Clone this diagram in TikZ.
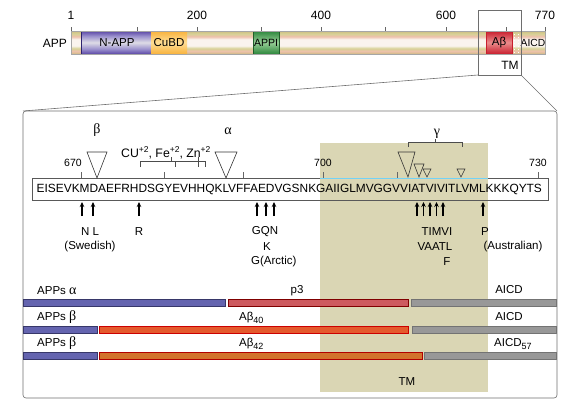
\documentclass[tikz,border=0pt]{standalone}
\usepackage{fontspec}
\setmainfont{Liberation Sans}
\newfontfamily\grk{Liberation Serif}
\usetikzlibrary{arrows.meta}
\definecolor{tanA}{RGB}{205,188,130}
\definecolor{pinkA}{RGB}{238,192,172}
\definecolor{creamA}{RGB}{250,244,238}
\definecolor{grnT}{RGB}{215,210,150}
\definecolor{purA}{RGB}{90,70,165}
\definecolor{purB}{RGB}{155,145,205}
\definecolor{purC}{RGB}{222,220,230}
\definecolor{navyA}{RGB}{45,35,110}
\definecolor{oraA}{RGB}{248,178,60}
\definecolor{oraB}{RGB}{255,222,150}
\definecolor{grnA}{RGB}{45,135,60}
\definecolor{grnB}{RGB}{150,205,150}
\definecolor{redA}{RGB}{200,30,45}
\definecolor{redB}{RGB}{235,140,140}
\definecolor{tmshade}{RGB}{218,214,180}
\definecolor{blueBar}{RGB}{100,100,175}
\definecolor{blueBarD}{RGB}{55,55,105}
\definecolor{p3col}{RGB}{205,90,95}
\definecolor{ab40}{RGB}{228,90,45}
\definecolor{ab42}{RGB}{210,115,45}
\definecolor{grayBar}{RGB}{152,152,152}
\definecolor{lineG}{RGB}{110,110,110}
\pgfdeclareverticalshading{appbg}{100bp}{color(0bp)=(tanA); color(25bp)=(tanA); color(31bp)=(pinkA); color(37bp)=(grnT); color(43bp)=(creamA); color(57bp)=(creamA); color(63bp)=(pinkA); color(69bp)=(grnT); color(75bp)=(tanA); color(100bp)=(tanA)}
\pgfdeclareverticalshading{nappsh}{100bp}{color(0bp)=(purA); color(25bp)=(purA); color(36bp)=(purB); color(50bp)=(purC); color(64bp)=(purB); color(75bp)=(purA); color(100bp)=(purA)}
\pgfdeclareverticalshading{cubdsh}{100bp}{color(0bp)=(oraA); color(25bp)=(oraA); color(50bp)=(oraB); color(75bp)=(oraA); color(100bp)=(oraA)}
\pgfdeclareverticalshading{appish}{100bp}{color(0bp)=(grnA); color(25bp)=(grnA); color(50bp)=(grnB); color(75bp)=(grnA); color(100bp)=(grnA)}
\pgfdeclareverticalshading{absh}{100bp}{color(0bp)=(redA); color(25bp)=(redA); color(50bp)=(redB); color(75bp)=(redA); color(100bp)=(redA)}
\newcommand{\supx}[1]{\raisebox{0.42em}{\fontsize{8.5}{9}\selectfont #1}}
\newcommand{\subx}[1]{\raisebox{-0.28em}{\fontsize{9}{9}\selectfont #1}}
\begin{document}
\begin{tikzpicture}[x=1pt,y=-1pt,
  lbl/.style={inner sep=0pt, font=\fontsize{11.5}{13}\selectfont},
  toplbl/.style={inner sep=0pt, font=\fontsize{10.5}{12}\selectfont},
  numlbl/.style={inner sep=0pt, font=\fontsize{12}{13}\selectfont},
  ticklbl/.style={inner sep=0pt, font=\fontsize{10.5}{12}\selectfont},
  grklbl/.style={inner sep=0pt, font=\fontsize{14}{15}\selectfont\grk},
  seqtxt/.style={inner sep=0pt, font=\fontsize{11.9}{13}\selectfont},
  mut/.style={-{Stealth[length=5pt,width=4.5pt]}, line width=1.1pt},
  tri/.style={draw=black!80, line width=0.6pt},
  brk/.style={draw=black!70, line width=0.6pt},
  tickm/.style={draw=black!60, line width=0.5pt},
  bar/.style={line width=0.7pt},
  frame/.style={draw=lineG, line width=0.6pt}]
\useasboundingbox (0,0) rectangle (570,407);

% ---------- top APP bar ----------
\shade[shading=appbg] (71,31) rectangle (545,54);
\shade[shading=nappsh] (81,31) rectangle (151,54);
\draw[draw=navyA, line width=0.7pt] (81,31) rectangle (151,54);
\shade[shading=cubdsh] (151,31) rectangle (187,54);
\shade[shading=appish] (253,31) rectangle (279,54);
\draw[draw=grnA!70!black, line width=0.7pt] (253,31) rectangle (279,54);
\shade[shading=absh] (486,31) rectangle (512,54);
\draw[draw=redA, line width=0.7pt] (486,31) rectangle (512,54);
\draw[white, dotted, line width=1pt] (514.5,31) -- (514.5,54);
\draw[white, dotted, line width=1pt] (518.5,31) -- (518.5,54);
\draw[draw=black!35, line width=0.5pt] (71,31) rectangle (545,54);
\node[numlbl] (tApp) [anchor=east] at (67,43) {APP};
\node[inner sep=0pt, font=\fontsize{11.5}{13}\selectfont] (tNapp) at (117,43) {N-APP};
\node[inner sep=0pt, font=\fontsize{11.5}{13}\selectfont] (tCubd) at (169,43) {CuBD};
\node[inner sep=0pt, font=\fontsize{10.5}{12}\selectfont] (tAppi) at (266,43) {APPI};
\node[inner sep=0pt, font=\fontsize{11.5}{13}\selectfont] (tAb) at (499,43) {Aβ};
\node[inner sep=0pt, font=\fontsize{10.3}{12}\selectfont, anchor=east] (tAicd) at (545.5,43) {AICD};
\foreach \xx in {71,137,197,261,321,385,446,506,545}
  \draw[tickm] (\xx,27) -- (\xx,31);
\node[numlbl] (n1) at (71,15) {1};
\node[numlbl] (n200) at (197,15) {200};
\node[numlbl] (n400) at (321,15) {400};
\node[numlbl] (n600) at (446,15) {600};
\node[numlbl] (n770) at (545,15) {770};

% zoom box and lines
\coordinate (zbl) at (478,75);
\coordinate (zbr) at (521,75);
\coordinate (zbt) at (478,10);
\draw[frame] (zbt) rectangle (zbr);
\node[numlbl] (tTm1) at (510,65) {TM};
\coordinate (bigTL) at (23,111);
\coordinate (bigTR) at (557,111);
\coordinate (bigBR) at (557,398);
\draw[frame] (zbl) -- (bigTL);
\draw[frame] (zbr) -- (bigTR);

% ---------- detail ----------
\fill[tmshade] (320,143) rectangle (488,392);
\draw[frame, rounded corners=3pt] (bigTL) rectangle (bigBR);

% sequence
\draw[draw=black!65, line width=0.6pt] (32,178) rectangle (548,200);
\draw[cyan!55, line width=0.7pt] (320,178.6) -- (488,178.6);
\node[seqtxt, anchor=west] (seq) at (36.5,189.5) {EISEVKMDAEFRHDSGYEVHHQKLVFFAEDVGSNKGAIIGLMVGGVVIATVIVITLVMLKKKQYTS};

% ticks and numbers
\foreach \xx in {81,164,243,323,397,538}
  \draw[tickm] (\xx,172) -- (\xx,178);
\node[ticklbl] (t670) at (73,163) {670};
\node[ticklbl] (t700) at (323,163) {700};
\node[ticklbl] (t730) at (538,163) {730};

% cleavage triangles
\node[grklbl] (lBeta) at (97,130) {β};
\draw[tri] (87,152) -- (107,152) -- (97,178) -- cycle;
\node[grklbl] (lAlpha) at (228,131) {α};
\draw[tri] (215,152) -- (237,152) -- (226,178) -- cycle;
\node[grklbl] (lGamma) at (437,134) {γ};
\draw[brk] (408,147) -- (408,142) -- (462,142) -- (462,147);
\draw[brk] (435,142) -- (435,139);
\draw[tri] (398,152) -- (415,152) -- (408,177) -- cycle;
\draw[tri] (414,164) -- (424,164) -- (419,177) -- cycle;
\draw[tri] (423,169) -- (431,169) -- (427,177) -- cycle;
\draw[tri] (457,169) -- (465,169) -- (461,177) -- cycle;

% metal binding
\node[inner sep=0pt, font=\fontsize{12.3}{13}\selectfont, anchor=west] (lMetal) at (121,153) {CU\supx{+2}, Fe\supx{+2}, Zn\supx{+2}};
\draw[brk] (140,167) -- (140,161) -- (205,161) -- (205,167);
\draw[brk] (175,161) -- (175,167);
\draw[brk] (198,161) -- (198,167);
\draw[brk] (171,161) -- (171,157);
\draw[brk] (198,161) -- (198,157);

% mutation arrows
\foreach \xx/\nm in {82/a1,93/a2,139/a3,257/a4,266/a5,274/a6,417/a7,423.5/a8,430/a9,436.5/a10,443/a11,483/a12}{
  \coordinate (\nm b) at (\xx,216);
  \coordinate (\nm t) at (\xx,202);
  \draw[mut] (\nm b) -- (\nm t);
}
\node[lbl] (mNL) at (90,232) {N L};
\node[lbl] (mSwe) at (90,247) {(Swedish)};
\node[lbl] (mR) at (139,232) {R};
\node[lbl] (mGQN) at (265,232) {GQN};
\node[lbl] (mK) at (267,247) {K};
\node[lbl, anchor=west] (mArc) at (251,262) {G(Arctic)};
\node[lbl] (mTIMVI) at (437,232) {TIMVI};
\node[lbl] (mVAATL) at (435,247) {VAATL};
\node[lbl] (mF) at (447,262) {F};
\node[lbl] (mP) at (485,232) {P};
\node[lbl] (mAus) at (513,247) {(Australian)};

% fragment bars
\draw[bar, fill=blueBar, draw=blueBarD] (23,299) rectangle (225,306);
\draw[bar, fill=p3col, draw=red!50!black] (228,299) rectangle (408,306);
\draw[bar, fill=grayBar, draw=black!55] (411,299) rectangle (556,306);
\draw[bar, fill=blueBar, draw=blueBarD] (23,326) rectangle (97,333);
\draw[bar, fill=ab40, draw=red!80!black] (99,326) rectangle (408,333);
\draw[bar, fill=grayBar, draw=black!55] (412,326) rectangle (556,333);
\draw[bar, fill=blueBar, draw=blueBarD] (23,352) rectangle (97,359);
\draw[bar, fill=ab42, draw=red!70!black] (99,352) rectangle (422,359);
\draw[bar, fill=grayBar, draw=black!55] (424,352) rectangle (556,359);

\node[lbl, anchor=west] (fA1) at (37,291) {APPs {\grk\fontsize{14}{15}\selectfont α}};
\node[lbl] (fP3) at (297,291) {p3};
\node[lbl] (fAicd1) at (509,290) {AICD};
\node[lbl, anchor=west] (fB1) at (37,317) {APPs {\grk\fontsize{14}{15}\selectfont β}};
\node[lbl, anchor=west] (fAb40) at (239,318) {Aβ\subx{40}};
\node[lbl] (fAicd2) at (509,317) {AICD};
\node[lbl, anchor=west] (fB2) at (37,343) {APPs {\grk\fontsize{14}{15}\selectfont β}};
\node[lbl, anchor=west] (fAb42) at (239,344) {Aβ\subx{42}};
\node[lbl, anchor=west] (fAicd3) at (494,344) {AICD\subx{57}};
\node[lbl] (tTm2) at (407,382) {TM};
\end{tikzpicture}
\end{document}
